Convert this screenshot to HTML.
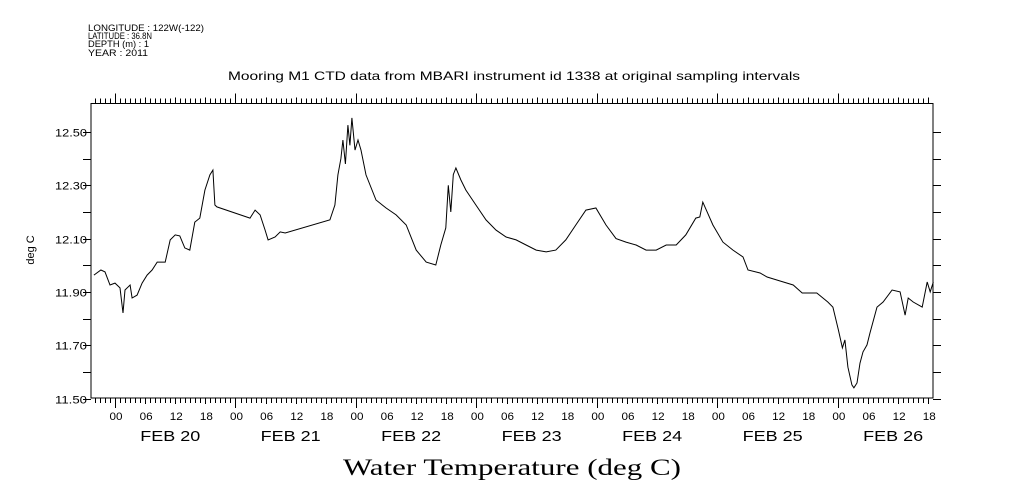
<!DOCTYPE html>
<html><head><meta charset="utf-8">
<style>
html,body{margin:0;padding:0;background:#fff;}
svg{display:block;font-family:"Liberation Sans",sans-serif;}
</style></head>
<body>
<svg id="chart" width="1009" height="504" viewBox="0 0 1009 504" xmlns="http://www.w3.org/2000/svg">
  <g font-size="9.5" fill="#000">
    <text x="88" y="31" textLength="116" lengthAdjust="spacingAndGlyphs">LONGITUDE : 122W(-122)</text>
    <text x="88" y="39" textLength="64" lengthAdjust="spacingAndGlyphs">LATITUDE : 36.8N</text>
    <text x="88" y="47" textLength="61" lengthAdjust="spacingAndGlyphs">DEPTH (m) : 1</text>
    <text x="88" y="56" textLength="60" lengthAdjust="spacingAndGlyphs">YEAR : 2011</text>
  </g>
  <text x="228" y="80" textLength="572" lengthAdjust="spacingAndGlyphs" font-size="12">Mooring M1 CTD data from MBARI instrument id 1338 at original sampling intervals</text>
  <text transform="translate(34,250) rotate(-90)" text-anchor="middle" font-size="11">deg C</text>
  <text x="343" y="475" textLength="338" lengthAdjust="spacingAndGlyphs" font-size="23" font-family="Liberation Serif, serif">Water Temperature (deg C)</text>
  <rect x="91" y="103.5" width="842" height="294.5" fill="none" stroke="#000" stroke-width="1"/>
  <g id="axes"></g>
  <path id="series" fill="none" stroke="#000" stroke-width="1"/>
</svg>
<script>
const hours = [-4.2,-2.8,-2.0,-1.0,0,1.0,1.6,2.0,3.0,3.4,4.4,5.4,6.4,7.4,8.4,10.0,11.0,12.0,12.9,13.9,14.9,15.9,16.9,17.9,18.9,19.5,19.9,20.3,26.9,27.9,28.9,29.9,30.5,31.9,32.9,33.9,42.8,43.8,44.4,45.0,45.4,45.9,46.4,46.8,47.2,47.8,48.4,49.0,50.0,52.0,54.0,56.0,58.0,60.0,62.0,63.9,64.9,65.9,66.4,66.9,67.4,67.9,68.9,69.9,71.9,73.9,75.9,77.9,79.9,81.9,83.9,85.9,87.8,89.8,91.8,93.8,95.8,97.8,99.8,101.8,103.8,105.8,107.8,109.8,111.8,113.7,115.7,116.5,117.1,119.1,121.1,123.1,125.1,126.1,128.5,129.9,132.5,135.1,136.9,139.8,142.0,143.0,144.1,144.9,145.4,146.0,146.8,147.2,147.8,148.4,149.0,149.8,150.4,151.8,153.0,154.8,156.4,157.4,158.0,159.0,160.8,161.8,162.4,163.0];
const temps = [11.963,11.982,11.975,11.926,11.933,11.915,11.821,11.907,11.926,11.877,11.888,11.933,11.963,11.982,12.012,12.012,12.095,12.114,12.110,12.065,12.057,12.162,12.177,12.282,12.339,12.357,12.226,12.219,12.177,12.207,12.189,12.132,12.095,12.106,12.125,12.121,12.170,12.226,12.339,12.400,12.470,12.380,12.526,12.450,12.553,12.432,12.470,12.432,12.339,12.245,12.215,12.189,12.151,12.057,12.012,12.001,12.076,12.140,12.300,12.200,12.340,12.365,12.320,12.282,12.226,12.170,12.132,12.106,12.095,12.076,12.057,12.050,12.057,12.095,12.151,12.207,12.215,12.151,12.100,12.087,12.076,12.057,12.057,12.076,12.076,12.114,12.177,12.181,12.237,12.151,12.087,12.057,12.031,11.982,11.971,11.956,11.941,11.926,11.896,11.896,11.862,11.843,11.757,11.690,11.720,11.618,11.551,11.540,11.558,11.633,11.675,11.701,11.746,11.843,11.862,11.907,11.900,11.813,11.877,11.862,11.843,11.937,11.900,11.937];
const yTickLabels = ["11.50","11.70","11.90","12.10","12.30","12.50"];
const dayLabels = ["FEB 20","FEB 21","FEB 22","FEB 23","FEB 24","FEB 25","FEB 26"];
const hourLabels = ["00","06","12","18"];

const X0=115, PXH=5.02, Y0=132, PXD=266.5;
function xs(h){return X0+h*PXH;}
function ys(v){return Y0+(12.5-v)*PXD;}
const L=91,R=933,T=103.5,B=398;
const NS="http://www.w3.org/2000/svg";
const axes=document.getElementById('axes');
function line(x1,y1,x2,y2,name){
  const l=document.createElementNS(NS,'line');
  l.setAttribute('x1',x1);l.setAttribute('y1',y1);l.setAttribute('x2',x2);l.setAttribute('y2',y2);
  l.setAttribute('stroke','#000');l.setAttribute('stroke-width','1');
  
  
  axes.appendChild(l);
}
function text(x,y,s,anchor,size,name,len){
  const t=document.createElementNS(NS,'text');
  t.setAttribute('x',x);t.setAttribute('y',y);t.setAttribute('text-anchor',anchor);t.setAttribute('font-size',size);
  if(len){t.setAttribute('textLength',len);t.setAttribute('lengthAdjust','spacingAndGlyphs');}
  t.textContent=s;
  
  
  axes.appendChild(t);
}
for(let h=-5;h<=163;h++){
  const x=Math.round(xs(h))+0.5;
  if(x<L||x>R) continue;
  const major=((h%24)+24)%24===0;
  const six=((h%6)+6)%6===0;
  const len=major?10:(six?6:5);
  line(x,B,x,B+len,'x-tick');
  line(x,T,x,T-len,'x-tick-top');
  if(six){
    const hl=hourLabels[(((h%24)+24)%24)/6];
    text(xs(h)+1,B+22,hl,'middle',11,'hour-label',13);
  }
}
for(let d=0;d<dayLabels.length;d++){
  text(xs(d*24+11),441,dayLabels[d],'middle',15,'day-label',60);
}
for(let i=0;i<=10;i++){
  const v=11.5+i*0.1;
  const y=Math.round(ys(v))+0.5;
  line(L-8,y,L,y,'y-tick');
  line(R,y,R+8,y,'y-tick-right');
  if(i%2===0) text(L-4,y+4,yTickLabels[i/2],'end',11,'y-tick-label',32);
}
let d='';
for(let i=0;i<hours.length;i++){
  d+=(i?'L':'M')+xs(hours[i]).toFixed(1)+' '+ys(temps[i]).toFixed(1);
}
document.getElementById('series').setAttribute('d',d);
</script>
</body></html>
